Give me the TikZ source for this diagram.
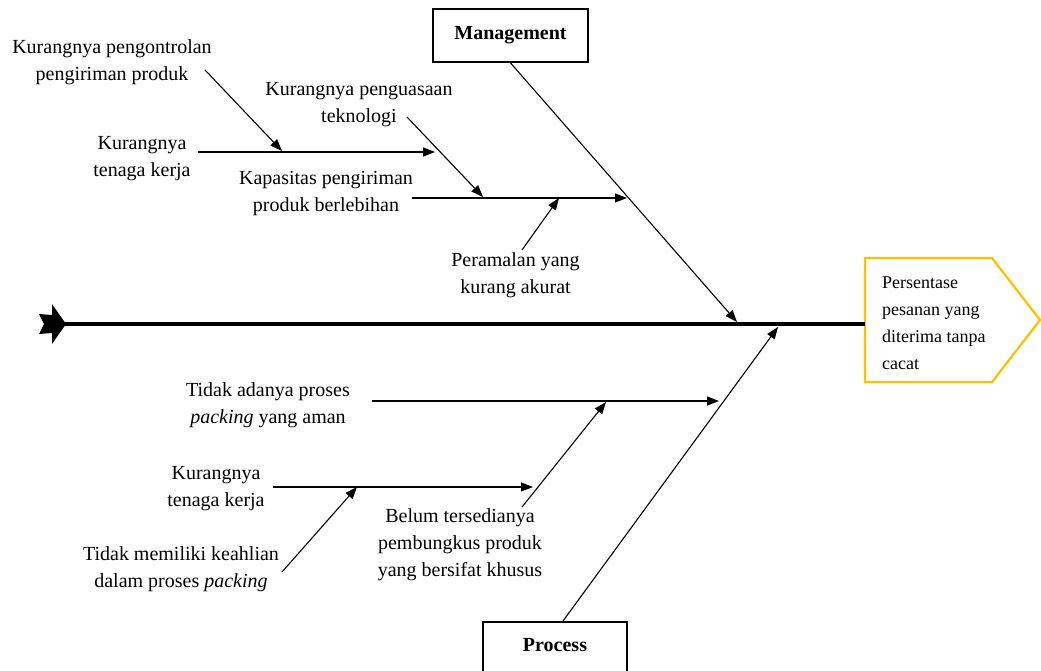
\documentclass[tikz,border=0pt]{standalone}
\usepackage{fontspec}
\setmainfont{Liberation Serif}
\usetikzlibrary{arrows.meta}
\definecolor{headyellow}{HTML}{FFC000}
\begin{document}
\begin{tikzpicture}[x=1pt,y=-1pt,
  bone/.style={line width=1.1pt, -{Triangle[length=12pt,width=9pt]}},
  spine/.style={line width=3.6pt},
  cause/.style={font=\fontsize{20}{27}\selectfont, align=center, inner sep=0pt},
  catbox/.style={draw, line width=1.8pt, font=\fontsize{20}{24}\selectfont\bfseries, inner sep=0pt},
  headtext/.style={font=\fontsize{18}{27}\selectfont, align=left, inner sep=0pt}
]
\useasboundingbox (0,0) rectangle (1041,671);

% effect head
\draw[headyellow, line width=2.2pt, line join=miter]
  (865,258) -- (992,258) -- (1040,320) -- (992,382) -- (865,382) -- cycle;
\node[headtext, anchor=north west] (head) at (882,277)
  {Persentase\\pesanan yang\\diterima tanpa\\cacat};

% backbone with fletched tail
\coordinate (tail) at (64,324);
\coordinate (headL) at (865,324);
\fill (52,304) -- (66,324) -- (52,344) -- (52,333) -- (39,334) -- (44,324) -- (39,314) -- (52,315) -- cycle;
\draw[spine] (tail) -- (headL);

% category boxes
\node[catbox, minimum width=155pt, minimum height=53pt] (mgmt) at (510.5,35.5) {Management};
\node[catbox, anchor=north, minimum width=144pt, inner ysep=16pt, text height=14pt, text depth=30pt] (proc) at (555,621) {Process};

% main bones
\coordinate (mgmtTip) at (737,322);
\coordinate (procStart) at (563,621);
\coordinate (procTip) at (778,327);
\draw[bone] (mgmt.south) -- (mgmtTip);
\draw[bone] (procStart) -- (procTip);

% management causes
\node[cause] (c1) at (112,62) {Kurangnya pengontrolan\\pengiriman produk};
\node[cause] (c2) at (142,158.5) {Kurangnya\\tenaga kerja};
\node[cause] (c3) at (359,105) {Kurangnya penguasaan\\teknologi};
\node[cause] (c4) at (326,193.5) {Kapasitas pengiriman\\produk berlebihan};
\node[cause] (c5) at (515.5,275) {Peramalan yang\\kurang akurat};

\coordinate (c1s) at (205,70);   \coordinate (c1t) at (282,151);
\coordinate (c2s) at (198,152);  \coordinate (c2t) at (435,152);
\coordinate (c3s) at (407,117);  \coordinate (c3t) at (483,197);
\coordinate (c4s) at (412,198);  \coordinate (c4t) at (627,198);
\coordinate (c5s) at (522,250);  \coordinate (c5t) at (559,198);
\draw[bone] (c1s) -- (c1t);
\draw[bone] (c2s) -- (c2t);
\draw[bone] (c3s) -- (c3t);
\draw[bone] (c4s) -- (c4t);
\draw[bone] (c5s) -- (c5t);

% process causes
\node[cause] (p1) at (268,405) {Tidak adanya proses\\\textit{packing} yang aman};
\node[cause] (p2) at (216,488.5) {Kurangnya\\tenaga kerja};
\node[cause] (p3) at (181,569) {Tidak memiliki keahlian\\dalam proses \textit{packing}};
\node[cause] (p4) at (460,545) {Belum tersedianya\\pembungkus produk\\yang bersifat khusus};

\coordinate (p1s) at (372,401);  \coordinate (p1t) at (719,401);
\coordinate (p2s) at (273,487);  \coordinate (p2t) at (533,487);
\coordinate (p3s) at (282,572);  \coordinate (p3t) at (357,487);
\coordinate (p4s) at (522,507);  \coordinate (p4t) at (606,402);
\draw[bone] (p1s) -- (p1t);
\draw[bone] (p2s) -- (p2t);
\draw[bone] (p3s) -- (p3t);
\draw[bone] (p4s) -- (p4t);
\end{tikzpicture}
\end{document}
